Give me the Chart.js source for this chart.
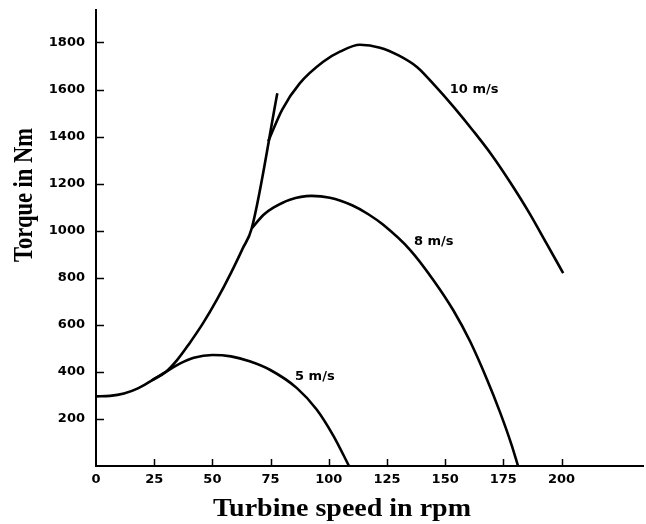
<!DOCTYPE html>
<html>
<head>
<meta charset="utf-8">
<script src="https://cdn.jsdelivr.net/npm/chart.js@4.4.1/dist/chart.umd.min.js"></script>
<style>
  html, body { margin: 0; padding: 0; background: #fff; }
  #wrap { width: 646px; height: 524px; position: relative; }
</style>
</head>
<body>
<div id="wrap"><canvas id="chart"></canvas></div>
<script>
// tick labels
const xTicks = [0, 25, 50, 75, 100, 125, 150, 175, 200];
const yTicks = [200, 400, 600, 800, 1000, 1200, 1400, 1600, 1800];

// 5 m/s
const rpm5 = [0, 6, 12, 18, 24, 30, 36, 42, 50, 58, 66, 74.7, 86.2, 94.8, 102, 108.7];
const torque5 = [296, 298, 308, 330, 364, 400, 435, 460, 472, 466, 445, 409, 332, 240, 128, 0];

// 8 m/s
const rpm8 = [66.9, 72, 76.2, 83.3, 92.5, 100.5, 110, 117, 123.4, 134.9, 144.9, 153.5, 160.7, 167.8, 173.6, 178.6, 181.3];
const torque8 = [1010, 1068, 1098, 1132, 1148, 1140, 1108, 1070, 1025, 919, 791, 662, 530, 372, 228, 88, 0];

// 10 m/s
const rpm10 = [74, 80, 87.6, 97.6, 105, 113.4, 122, 130, 138, 146, 154, 162, 170, 178, 186, 193.6, 200.7];
const torque10 = [1380, 1515, 1627, 1718, 1762, 1790, 1778, 1745, 1695, 1612, 1522, 1425, 1322, 1205, 1078, 945, 820];

// max torque line touching the three curves
const rpmEnv = [24, 30, 35, 40, 46, 52, 58, 63, 66.9, 77.9];
const torqueEnv = [364, 400, 452, 519, 607, 708, 821, 924, 1010, 1584];

// curve labels
const curveNames = ["10 m/s", "8 m/s", "5 m/s"];
const labelRpm = [152, 136.6, 85.5];
const labelTorque = [1598, 953, 380];

function pts(xs, ys) {
  return xs.map((x, i) => ({ x: x, y: ys[i] }));
}

function curve(data) {
  return {
    data: data,
    borderColor: "#000",
    borderWidth: 2.6,
    pointRadius: 0,
    fill: false,
    cubicInterpolationMode: "monotone",
  };
}

const tickFont = { family: "DejaVu Sans", size: 13, weight: "bold" };

// inward tick marks, curve names and axis titles
const extras = {
  id: "extras",
  afterDraw(chart) {
    const ctx = chart.ctx;
    const xs = chart.scales.x;
    const ys = chart.scales.y;
    const area = chart.chartArea;
    ctx.save();
    ctx.strokeStyle = "#000";
    ctx.lineWidth = 1.5;
    ctx.beginPath();
    yTicks.forEach(v => {
      const p = Math.round(ys.getPixelForValue(v)) + 0.5;
      ctx.moveTo(area.left, p);
      ctx.lineTo(area.left + 8, p);
    });
    xTicks.slice(1).forEach(v => {
      const p = Math.round(xs.getPixelForValue(v)) + 0.5;
      ctx.moveTo(p, area.bottom);
      ctx.lineTo(p, area.bottom - 7);
    });
    ctx.stroke();

    ctx.fillStyle = "#000";
    ctx.font = "bold 13px 'DejaVu Sans'";
    ctx.textAlign = "left";
    ctx.textBaseline = "middle";
    curveNames.forEach((t, i) => {
      ctx.fillText(t, xs.getPixelForValue(labelRpm[i]), ys.getPixelForValue(labelTorque[i]));
    });

    ctx.font = "bold 25px 'Liberation Serif'";
    ctx.textAlign = "center";
    ctx.textBaseline = "alphabetic";
    ctx.save();
    ctx.translate(342, 516);
    ctx.scale(1.12, 1);
    ctx.fillText("Turbine speed in rpm", 0, 0);
    ctx.restore();

    ctx.save();
    ctx.translate(32, 195);
    ctx.rotate(-Math.PI / 2);
    ctx.scale(0.9, 1.08);
    ctx.fillText("Torque in Nm", 0, 0);
    ctx.restore();
    ctx.restore();
  }
};

new Chart(document.getElementById("chart"), {
  type: "line",
  data: {
    datasets: [
      curve(pts(rpm5, torque5)),
      curve(pts(rpm8, torque8)),
      curve(pts(rpm10, torque10)),
      curve(pts(rpmEnv, torqueEnv)),
    ],
  },
  options: {
    responsive: true,
    maintainAspectRatio: false,
    animation: false,
    layout: { autoPadding: false, padding: { top: 10, right: 3, left: 0, bottom: 0 } },
    plugins: {
      legend: { display: false },
      tooltip: { enabled: false },
    },
    scales: {
      x: {
        type: "linear",
        min: 0,
        max: 235,
        afterBuildTicks: s => { s.ticks = xTicks.map(v => ({ value: v })); },
        afterFit: s => { s.height = 58; },
        grid: { display: false, drawTicks: false },
        border: { display: true, color: "#000", width: 2 },
        ticks: { color: "#000", font: tickFont, padding: 6, maxRotation: 0, autoSkip: false, callback: v => String(v) },
      },
      y: {
        type: "linear",
        min: 0,
        max: 1938,
        afterBuildTicks: s => { s.ticks = yTicks.map(v => ({ value: v })); },
        afterFit: s => { s.width = 96; },
        // tick length keeps labels off the axis; small padding keeps the top edge at 10px
        grid: { display: false, drawTicks: true, tickLength: 9 },
        border: { display: true, color: "#000", width: 2 },
        ticks: { color: "#000", font: tickFont, padding: 2, autoSkip: false, callback: v => String(v) },
      },
    },
  },
  plugins: [extras],
});
</script>
</body>
</html>
